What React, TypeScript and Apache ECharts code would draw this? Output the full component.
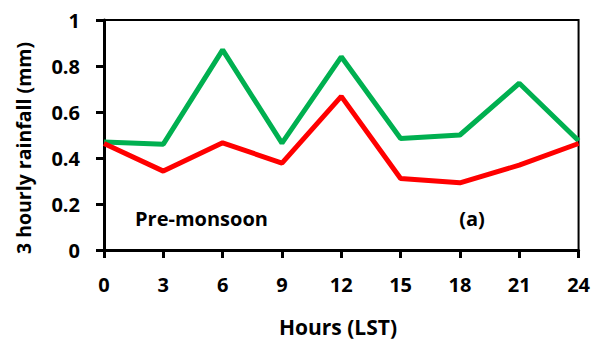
import React, { useEffect, useRef } from "react";
import * as echarts from "echarts";

const hours = [0, 3, 6, 9, 12, 15, 18, 21, 24];
const greenSeries = [0.47, 0.46, 0.87, 0.465, 0.84, 0.485, 0.5, 0.725, 0.475];
const redSeries = [0.463, 0.343, 0.466, 0.378, 0.668, 0.311, 0.292, 0.369, 0.463];
const yTicks = [0, 0.2, 0.4, 0.6, 0.8, 1];

const FONT = "'Open Sans', 'Noto Sans', sans-serif";

export default function App() {
  const ref = useRef<HTMLDivElement>(null);
  useEffect(() => {
    if (!ref.current) return;
    document.body.style.margin = "0";
    const chart = echarts.init(ref.current, null, { renderer: "svg" });
    const pair = (vals: number[]) => hours.map((h, i) => [h, vals[i]]);
    chart.setOption({
      animation: false,
      backgroundColor: "#ffffff",
      grid: {
        left: 104,
        right: 14,
        top: 20,
        bottom: 93,
        show: true,
        borderColor: "#000",
        borderWidth: 2,
      },
      xAxis: {
        type: "value",
        min: 0,
        max: 24,
        interval: 3,
        axisLine: { show: true, onZero: false, lineStyle: { color: "#000", width: 3 } },
        axisTick: { show: true, length: 8, lineStyle: { color: "#000", width: 3 } },
        splitLine: { show: false },
        axisLabel: {
          margin: 24,
          color: "#000",
          fontFamily: FONT,
          fontWeight: "bold",
          fontSize: 20,
        },
      },
      yAxis: {
        type: "value",
        min: 0,
        max: 1,
        interval: 0.2,
        axisLine: { show: true, lineStyle: { color: "#000", width: 3 } },
        axisTick: { show: true, length: 8, lineStyle: { color: "#000", width: 3 } },
        splitLine: { show: false },
        axisLabel: {
          margin: 24,
          color: "#000",
          fontFamily: FONT,
          fontWeight: "bold",
          fontSize: 20,
          formatter: (v: number) => {
            const t = yTicks.find((y) => Math.abs(y - v) < 1e-9);
            return String(t !== undefined ? t : v);
          },
        },
      },
      series: [
        {
          type: "line",
          data: pair(greenSeries),
          symbol: "none",
          lineStyle: { color: "#00B050", width: 5 },
          z: 3,
        },
        {
          type: "line",
          data: pair(redSeries),
          symbol: "none",
          lineStyle: { color: "#FF0000", width: 5 },
          z: 4,
        },
      ],
      graphic: [
        {
          type: "text",
          x: 23,
          y: 148,
          rotation: Math.PI / 2,
          style: {
            text: "3 hourly rainfall (mm)",
            fontFamily: FONT,
            fontWeight: "bold",
            fontSize: 19.5,
            fill: "#000",
            textAlign: "center",
            textVerticalAlign: "middle",
          },
        },
        {
          type: "text",
          x: 338,
          y: 327,
          style: {
            text: "Hours (LST)",
            fontFamily: FONT,
            fontWeight: "bold",
            fontSize: 21,
            fill: "#000",
            textAlign: "center",
            textVerticalAlign: "middle",
          },
        },
        {
          type: "text",
          x: 135,
          y: 218,
          style: {
            text: "Pre-monsoon",
            fontFamily: FONT,
            fontWeight: "bold",
            fontSize: 20,
            fill: "#000",
            textAlign: "left",
            textVerticalAlign: "middle",
          },
        },
        {
          type: "text",
          x: 472,
          y: 218,
          style: {
            text: "(a)",
            fontFamily: FONT,
            fontWeight: "bold",
            fontSize: 20,
            fill: "#000",
            textAlign: "center",
            textVerticalAlign: "middle",
          },
        },
      ],
    });
    return () => chart.dispose();
  }, []);
  return <div ref={ref} style={{ width: 593, height: 343 }} />;
}
